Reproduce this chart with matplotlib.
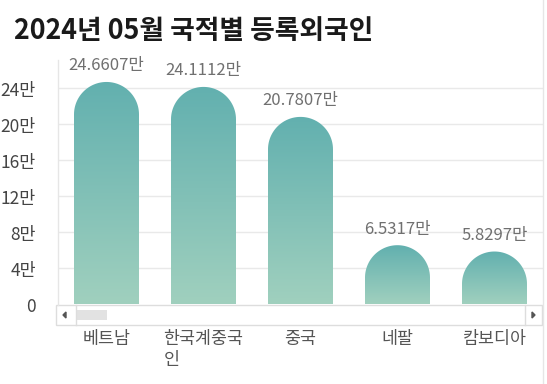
import numpy as np
import matplotlib
matplotlib.use("Agg")
import matplotlib.pyplot as plt
from matplotlib.patches import Polygon, Rectangle
from matplotlib.lines import Line2D
from matplotlib.colors import LinearSegmentedColormap

plt.rcParams['font.family'] = ['Noto Sans CJK KR', 'DejaVu Sans']

# 데이터 (단위: 만 명)
countries = ["베트남", "한국계중국\n인", "중국", "네팔", "캄보디아"]
values = [24.6607, 24.1112, 20.7807, 6.5317, 5.8297]
value_labels = ["24.6607만", "24.1112만", "20.7807만", "6.5317만", "5.8297만"]
yticks = [0, 4, 8, 12, 16, 20, 24]
ytick_labels = ["0", "4만", "8만", "12만", "16만", "20만", "24만"]

W, H = 547, 384
fig = plt.figure(figsize=(W / 100, H / 100), dpi=100)

# 축 위치 (픽셀 기준)
left, right, top, bottom = 58, 543, 60, 304
ax = fig.add_axes([left / W, 1 - bottom / H, (right - left) / W, (bottom - top) / H])
ax.set_xlim(-0.5, 4.5)
ax.set_ylim(0, 27.1)

px_x = (right - left) / 5.0
px_y = (bottom - top) / 27.1

cmap = LinearSegmentedColormap.from_list("bar", ["#a0d0be", "#62b0af"])
grad = np.linspace(0, 1, 256).reshape(-1, 1)

bw = 0.67
r_px = bw / 2 * px_x
ry = r_px / px_y

for i, v in enumerate(values):
    x0, x1 = i - bw / 2, i + bw / 2
    h_body = max(v - ry, 0)
    t = np.linspace(np.pi, 0, 60)
    arc = np.column_stack([i + bw / 2 * np.cos(t), h_body + ry * np.sin(t)])
    pts = np.vstack([[x0, 0], arc, [x1, 0]])
    poly = Polygon(pts, closed=True, facecolor="none", edgecolor="none")
    ax.add_patch(poly)
    im = ax.imshow(grad, cmap=cmap, origin="lower", aspect="auto",
                   extent=[x0, x1, 0, v], zorder=2)
    im.set_clip_path(poly)
    ax.text(i, v + 0.85, value_labels[i], ha="center", va="bottom",
            fontsize=12, color="#707070", fontweight="medium")

ax.set_xlim(-0.5, 4.5)
ax.set_ylim(0, 27.1)

for y in yticks[1:]:
    ax.axhline(y, color="#e9e9e9", lw=1, zorder=1)

ax.set_xticks([])
ax.set_yticks([])
for s in ax.spines.values():
    s.set_visible(False)

# y축 라벨
for y, lab in zip(yticks, ytick_labels):
    fy_ = 1 - (bottom - y * px_y + 3) / H
    fig.text(36 / W, fy_, lab, ha="right", va="center", fontsize=12.5,
             color="#444444", fontweight="medium")

# x축 라벨
for i, name in enumerate(countries):
    fx_ = (left + (i + 0.5) * px_x) / W
    fig.text(fx_, 1 - 330 / H, name, ha="center", va="top", fontsize=12.5,
             color="#555555", multialignment="left", linespacing=1.25,
             fontweight="medium")

# 스크롤바
def fx(p):
    return p / W

def fy(p):
    return 1 - p / H

fig.patches.append(Rectangle((fx(56), fy(325)), fx(542) - fx(56), fy(305) - fy(325),
                             transform=fig.transFigure, facecolor="white",
                             edgecolor="#dddddd", lw=1))
fig.patches.append(Rectangle((fx(77), fy(320)), fx(107) - fx(77), fy(310) - fy(320),
                             transform=fig.transFigure, facecolor="#e2e2e2",
                             edgecolor="none"))
fig.patches.append(Polygon([[fx(66), fy(312)], [fx(66), fy(318)], [fx(63), fy(315)]],
                           closed=True, transform=fig.transFigure, color="#555555"))
fig.patches.append(Polygon([[fx(532), fy(312)], [fx(532), fy(318)], [fx(535), fy(315)]],
                           closed=True, transform=fig.transFigure, color="#555555"))
for xp in [76, 525]:
    fig.lines.append(Line2D([fx(xp), fx(xp)], [fy(305), fy(325)],
                            transform=fig.transFigure, color="#dddddd", lw=1))

# 테두리
fig.lines.append(Line2D([fx(left), fx(left)], [fy(top), fy(305)],
                        transform=fig.transFigure, color="#e6e6e6", lw=1))
fig.lines.append(Line2D([fx(543), fx(543)], [fy(0), fy(384)],
                        transform=fig.transFigure, color="#e6e6e6", lw=1))

# 제목
fig.text(14 / W, 1 - 31 / H, "2024년 05월 국적별 등록외국인", ha="left", va="center",
         fontsize=19.3, fontweight="bold", color="#1a1a1a")

fig.savefig("out.png", dpi=100)
